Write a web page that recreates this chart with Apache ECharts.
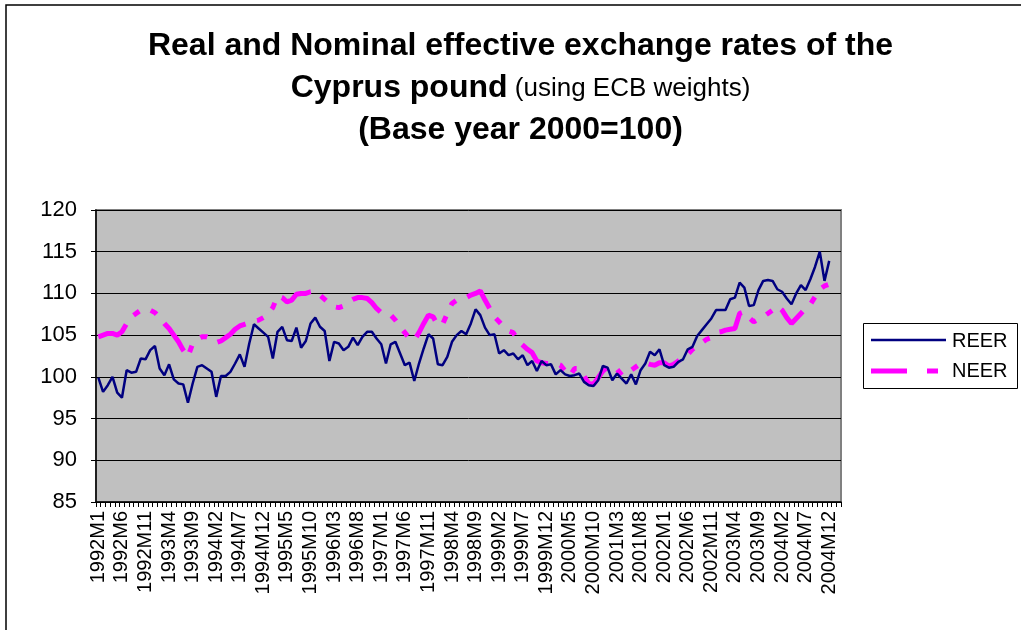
<!DOCTYPE html>
<html>
<head>
<meta charset="utf-8">
<script src="https://cdn.jsdelivr.net/npm/echarts@6/dist/echarts.min.js"></script>
<style>
html,body{margin:0;padding:0;background:#fff;}
#chart{width:1021px;height:630px;}
</style>
</head>
<body>
<div id="chart"></div>
<script>
// Categories: monthly 1992M1 .. 2005M2
var startYear = 1992;
var monthCount = 158;
var categories = [];
for (var k = 0; k < monthCount; k++) {
  categories.push((startYear + Math.floor(k / 12)) + 'M' + (k % 12 + 1));
}

var yTicks = [85, 90, 95, 100, 105, 110, 115, 120];

var reer = [
  99.9, 98.2, 99.0, 100.0, 98.1, 97.5, 100.8, 100.5, 100.6, 102.2, 102.1, 103.2,
  103.7, 101.0, 100.2, 101.5, 99.7, 99.2, 99.1, 96.9, 99.2, 101.2, 101.4, 101.0,
  100.6, 97.6, 100.1, 100.1, 100.6, 101.6, 102.7, 101.2, 104.0, 106.3, 105.8, 105.3,
  104.8, 102.2, 105.4, 106.0, 104.4, 104.3, 105.9, 103.5, 104.3, 106.4, 107.1, 106.0,
  105.5, 101.9, 104.2, 104.0, 103.2, 103.6, 104.7, 103.8, 104.8, 105.4, 105.4, 104.6,
  103.9, 101.6, 103.9, 104.2, 102.8, 101.4, 101.7, 99.5, 101.6, 103.4, 105.1, 104.6,
  101.5, 101.4, 102.4, 104.2, 105.0, 105.5, 105.1, 106.4, 108.1, 107.4, 105.9, 105.0,
  105.1, 102.8, 103.2, 102.6, 102.8, 102.1, 102.6, 101.4, 101.9, 100.7, 101.9, 101.4,
  101.5, 100.3, 100.8, 100.3, 100.1, 100.2, 100.4, 99.4, 99.0, 98.9, 99.6, 101.3,
  101.1, 99.6, 100.4, 99.8, 99.2, 100.3, 99.1, 100.8, 101.6, 103.0, 102.6, 103.3,
  101.4, 101.1, 101.2, 101.8, 102.1, 103.3, 103.6, 104.9, 105.6, 106.3, 107.0, 108.0,
  108.0, 108.0, 109.3, 109.5, 111.3, 110.7, 108.5, 108.6, 110.4, 111.5, 111.6, 111.5,
  110.5, 110.2, 109.4, 108.7, 110.0, 111.0, 110.4, 111.7, 113.2, 115.0, 111.5, 113.9
];

var neer = [
  104.8, 105.0, 105.2, 105.2, 105.0, 105.4, 106.4, 107.2, 107.6, 108.0, 108.1, 108.0,
  107.7, 107.1, 106.4, 105.8, 105.0, 104.2, 103.2, 102.4, 104.0, 104.5, 104.8, 104.8,
  104.5, 104.1, 104.3, 104.7, 105.1, 105.7, 106.1, 106.3, 106.5, 106.7, 106.8, 107.1,
  107.6, 108.3, 109.7, 109.5, 109.0, 109.2, 109.9, 110.0, 110.0, 110.2, 110.3, 109.8,
  109.3, 108.8, 108.4, 108.3, 108.5, 109.0, 109.3, 109.5, 109.5, 109.4, 108.9, 108.2,
  107.7, 107.6, 107.4, 106.8, 106.0, 105.3, 104.6, 104.4, 105.3, 106.4, 107.4, 107.2,
  106.2, 106.3, 107.6, 108.8, 109.2, 109.4, 109.5, 109.8, 110.0, 110.3, 109.2, 108.2,
  107.2, 106.6, 106.0, 105.5, 105.3, 104.3, 103.8, 103.3, 102.9, 101.9, 101.7, 101.6,
  101.6, 101.6, 101.4, 100.7, 100.1, 101.0, 101.0, 100.1, 99.2, 99.1, 99.9, 100.7,
  101.2, 101.0, 100.9, 100.2, 100.3, 100.8, 101.2, 101.6, 101.7, 101.5, 101.4, 101.7,
  101.7, 101.3, 101.5, 101.9, 102.3, 102.7, 103.3, 103.7, 104.1, 104.5, 104.7, 105.3,
  105.4, 105.6, 105.7, 105.8, 107.6, 107.8, 107.1, 106.6, 106.9, 107.2, 107.6, 108.0,
  108.5, 108.0, 107.1, 106.4, 107.0, 107.6, 108.2, 108.7, 109.6, 110.5, 110.9, 111.1,
  110.7
];

var FONT = '"Liberation Sans", Arial, Helvetica, sans-serif';
var NEER_DASH = [34, 12, 7, 12, 7, 12];

var chart = echarts.init(document.getElementById('chart'), null, {renderer: 'canvas'});
chart.setOption({
  backgroundColor: '#ffffff',
  animation: false,
  textStyle: {fontFamily: FONT},
  grid: {
    left: 96, top: 210, width: 745, height: 292,
    show: true, backgroundColor: '#C0C0C0', borderColor: '#808080', borderWidth: 2
  },
  xAxis: {
    type: 'category',
    data: categories,
    boundaryGap: true,
    axisLine: {show: true, lineStyle: {color: '#000', width: 1.5}},
    axisTick: {show: true, interval: 0, length: 5, lineStyle: {color: '#000', width: 1}},
    axisLabel: {
      interval: 4, rotate: 90, fontSize: 20, color: '#000', margin: 9,
      fontFamily: FONT
    },
    splitLine: {show: false}
  },
  yAxis: {
    type: 'value',
    min: yTicks[0], max: yTicks[yTicks.length - 1], interval: 5,
    axisLine: {show: true, lineStyle: {color: '#000', width: 1.5}},
    axisTick: {show: true, length: 5, lineStyle: {color: '#000'}},
    axisLabel: {fontSize: 22, color: '#000', margin: 19, fontFamily: FONT},
    splitLine: {show: true, lineStyle: {color: '#000', width: 1}}
  },
  series: [
    {
      name: 'REER', type: 'line', data: reer, symbol: 'none',
      lineStyle: {color: '#000080', width: 2.5},
      itemStyle: {color: '#000080'}, z: 3
    },
    {
      name: 'NEER', type: 'line', data: neer, symbol: 'none',
      lineStyle: {color: '#FF00FF', width: 5, type: NEER_DASH, cap: 'butt'},
      itemStyle: {color: '#FF00FF'}, z: 2
    }
  ],
  graphic: [
    {type: 'rect', shape: {x: 6, y: 5, width: 1100, height: 700}, style: {fill: 'none', stroke: '#000', lineWidth: 1.5}, silent: true},
    {type: 'text', x: 520.5, y: 46, style: {text: 'Real and Nominal effective exchange rates of the', font: 'bold 32px ' + FONT, fill: '#000', textAlign: 'center', textVerticalAlign: 'middle'}},
    {type: 'text', x: 520.5, y: 88, style: {
      text: '{b|Cyprus pound}{n| (using ECB weights)}',
      textAlign: 'center', textVerticalAlign: 'middle',
      rich: {
        b: {font: 'bold 32px ' + FONT, fill: '#000', verticalAlign: 'bottom'},
        n: {font: '26px ' + FONT, fill: '#000', verticalAlign: 'bottom', padding: [0, 0, 2, 0]}
      }
    }},
    {type: 'text', x: 520.5, y: 130, style: {text: '(Base year 2000=100)', font: 'bold 32px ' + FONT, fill: '#000', textAlign: 'center', textVerticalAlign: 'middle'}},
    // legend
    {type: 'rect', shape: {x: 863.5, y: 323.5, width: 154, height: 65}, style: {fill: '#fff', stroke: '#000', lineWidth: 1}},
    {type: 'line', shape: {x1: 871, y1: 340, x2: 946, y2: 340}, style: {stroke: '#000080', lineWidth: 2.5}},
    {type: 'text', x: 952, y: 341, style: {text: 'REER', font: '20px ' + FONT, fill: '#000', textVerticalAlign: 'middle'}},
    {type: 'line', shape: {x1: 871, y1: 371, x2: 907, y2: 371}, style: {stroke: '#FF00FF', lineWidth: 5}},
    {type: 'line', shape: {x1: 927, y1: 371, x2: 938, y2: 371}, style: {stroke: '#FF00FF', lineWidth: 5}},
    {type: 'text', x: 952, y: 371, style: {text: 'NEER', font: '20px ' + FONT, fill: '#000', textVerticalAlign: 'middle'}}
  ]
});
</script>
</body>
</html>
